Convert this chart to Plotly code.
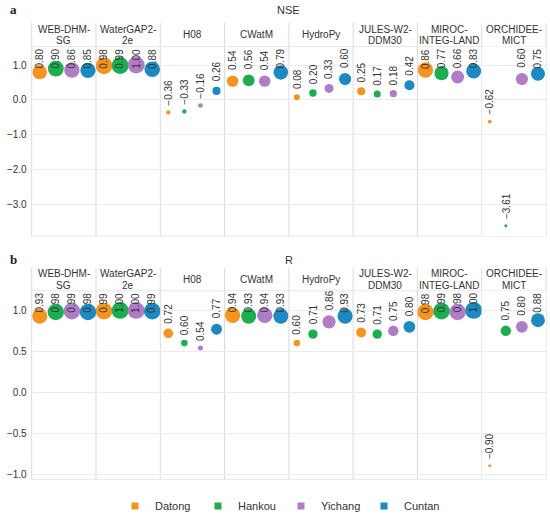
import plotly.graph_objects as go

# ---------------- data ----------------
stations = ["Datong", "Hankou", "Yichang", "Cuntan"]
models = ["WEB-DHM-SG", "WaterGAP2-2e", "H08", "CWatM", "HydroPy",
          "JULES-W2-DDM30", "MIROC-INTEG-LAND", "ORCHIDEE-MICT"]
model_header_lines = [["WEB-DHM-", "SG"], ["WaterGAP2-", "2e"], ["H08"], ["CWatM"],
                      ["HydroPy"], ["JULES-W2-", "DDM30"], ["MIROC-", "INTEG-LAND"],
                      ["ORCHIDEE-", "MICT"]]

nse_datong = [0.80, 0.98, -0.36, 0.54, 0.08, 0.25, 0.86, -0.62]
nse_hankou = [0.90, 0.99, -0.33, 0.56, 0.20, 0.17, 0.77, -3.61]
nse_yichang = [0.86, 1.00, -0.16, 0.54, 0.33, 0.18, 0.66, 0.60]
nse_cuntan = [0.85, 0.88, 0.26, 0.79, 0.60, 0.42, 0.83, 0.75]

r_datong = [0.93, 0.99, 0.72, 0.94, 0.60, 0.73, 0.98, -0.90]
r_hankou = [0.98, 1.00, 0.60, 0.93, 0.71, 0.71, 0.99, 0.75]
r_yichang = [0.99, 1.00, 0.54, 0.94, 0.86, 0.75, 0.98, 0.80]
r_cuntan = [0.98, 0.99, 0.77, 0.93, 0.93, 0.80, 1.00, 0.88]

nse_ticks = [1.0, 0.0, -1.0, -2.0, -3.0]
r_ticks = [1.0, 0.5, 0.0, -0.5, -1.0]

colors = ["#F7941D", "#1AAE50", "#B07CC6", "#1A8AC2"]

# ---------------- layout constants (pixels) ----------------
FIG_W, FIG_H = 550, 521
PLOT_L, PLOT_R = 31.7, 546.0
N_FACET = len(models)
FACET_W = (PLOT_R - PLOT_L) / N_FACET
FONT = "Liberation Sans, Arial, sans-serif"
TXT = "#333333"

panels = [
    dict(title="NSE", tag="a", values=[nse_datong, nse_hankou, nse_yichang, nse_cuntan],
         yrange=[-3.91, 1.53], ticks=nse_ticks, strip_top=23.0, plot_top=47.0,
         plot_bottom=238.0, size_base=0.0, size_slope=12.0, title_y=10.0),
    dict(title="R", tag="b", values=[r_datong, r_hankou, r_yichang, r_cuntan],
         yrange=[-1.064, 1.24], ticks=r_ticks, strip_top=270.0, plot_top=293.0,
         plot_bottom=483.0, size_base=0.54, size_slope=26.0, title_y=262.0),
]


def px_x(p):
    return p / FIG_W


def px_y(p):
    return 1 - p / FIG_H


def marker_size(v, base, slope):
    if v >= base:
        return 5.0 + slope * (v - base)
    return max(3.0, 5.0 + 2.0 * (v - base))


CHAR_W = {".": 2.78, "\u2212": 5.84}


def text_len(s, fs=10):
    return sum(CHAR_W.get(c, 5.56) for c in s) * fs / 10.0


def fmt(v):
    s = f"{v:.2f}"
    return s.replace("-", "\u2212")


fig = go.Figure()
layout = dict(
    width=FIG_W, height=FIG_H,
    margin=dict(l=0, r=0, t=0, b=0),
    paper_bgcolor="white", plot_bgcolor="white",
    font=dict(family=FONT, size=10, color=TXT),
    showlegend=True,
)
annotations = []
shapes = []

for p_i, pan in enumerate(panels):
    ymin, ymax = pan["yrange"]
    ppu = (pan["plot_bottom"] - pan["plot_top"]) / (ymax - ymin)
    ydom = [px_y(pan["plot_bottom"]), px_y(pan["plot_top"])]
    for j in range(N_FACET):
        k = p_i * N_FACET + j + 1
        xname = "xaxis" if k == 1 else f"xaxis{k}"
        yname = "yaxis" if k == 1 else f"yaxis{k}"
        xref = "x" if k == 1 else f"x{k}"
        yref = "y" if k == 1 else f"y{k}"
        x0 = PLOT_L + j * FACET_W
        x1 = x0 + FACET_W
        layout[xname] = dict(domain=[px_x(x0), px_x(x1)], anchor=yref, type="category",
                             categoryorder="array", categoryarray=stations,
                             range=[-0.5, 3.5], showgrid=False, zeroline=False,
                             showticklabels=False, showline=False, ticks="",
                             fixedrange=True)
        layout[yname] = dict(domain=ydom, anchor=xref, range=[ymin, ymax],
                             tickvals=pan["ticks"], tickformat=".1f",
                             showgrid=True, gridcolor="#ececec", gridwidth=1,
                             zeroline=False, showline=False, ticks="",
                             showticklabels=(j == 0), ticklabelstandoff=4,
                             tickfont=dict(size=10, color=TXT, family=FONT),
                             fixedrange=True)
        for s_i, st in enumerate(stations):
            v = pan["values"][s_i][j]
            d = marker_size(v, pan["size_base"], pan["size_slope"])
            fig.add_trace(go.Scatter(
                x=[st], y=[v], xaxis=xref, yaxis=yref, mode="markers",
                marker=dict(color=colors[s_i], size=d, line=dict(width=0), opacity=1),
                showlegend=False, hoverinfo="skip"))
            label = fmt(v)
            L = text_len(label)
            r = d / 2.0
            need = r + 4 + L + 1
            if v + need / ppu > ymax:
                annotations.append(dict(x=s_i, y=ymax, xref=xref, yref=yref, text=label,
                                        textangle=-90, showarrow=False, xanchor="center",
                                        yanchor="top", yshift=0,
                                        font=dict(size=10, color=TXT, family=FONT)))
            else:
                annotations.append(dict(x=s_i, y=v, xref=xref, yref=yref, text=label,
                                        textangle=-90, showarrow=False, xanchor="center",
                                        yanchor="bottom", yshift=r + 3,
                                        font=dict(size=10, color=TXT, family=FONT)))
        # facet header
        lines = model_header_lines[j]
        cy = (pan["strip_top"] + pan["plot_top"]) / 2.0
        n = len(lines)
        for li, line in enumerate(lines):
            ly = cy + (li - (n - 1) / 2.0) * 11.5
            annotations.append(dict(x=px_x((x0 + x1) / 2.0), y=px_y(ly), xref="paper",
                                    yref="paper", text=line, showarrow=False,
                                    xanchor="center", yanchor="middle",
                                    font=dict(size=10, color=TXT, family=FONT)))
    # facet borders
    for j in range(N_FACET + 1):
        bx = PLOT_L + j * FACET_W
        shapes.append(dict(type="line", xref="paper", yref="paper",
                           x0=px_x(bx), x1=px_x(bx), y0=px_y(pan["strip_top"]),
                           y1=px_y(pan["plot_bottom"]),
                           line=dict(color="#dadada", width=1), layer="below"))
    for hy in (pan["plot_top"], pan["plot_bottom"]):
        shapes.append(dict(type="line", xref="paper", yref="paper",
                           x0=px_x(PLOT_L), x1=px_x(PLOT_R), y0=px_y(hy), y1=px_y(hy),
                           line=dict(color="#e6e6e6", width=1), layer="below"))
    # panel tag and title
    annotations.append(dict(x=px_x(8), y=px_y(pan["title_y"]), xref="paper", yref="paper",
                            text=f"<b>{pan['tag']}</b>", showarrow=False, xanchor="left",
                            yanchor="middle",
                            font=dict(size=13, color="#222222",
                                      family="Liberation Serif, Times New Roman, serif")))
    annotations.append(dict(x=px_x((PLOT_L + PLOT_R) / 2.0), y=px_y(pan["title_y"]),
                            xref="paper", yref="paper", text=pan["title"], showarrow=False,
                            xanchor="center", yanchor="middle",
                            font=dict(size=11, color=TXT, family=FONT)))

# legend entries
for s_i, st in enumerate(stations):
    fig.add_trace(go.Scatter(x=[None], y=[None], mode="markers", name=st,
                             marker=dict(color=colors[s_i], size=7, symbol="square"),
                             showlegend=True, hoverinfo="skip"))

layout["annotations"] = annotations
layout["shapes"] = shapes
layout["legend"] = dict(orientation="h", x=px_x(115), xanchor="left", y=px_y(510),
                        yanchor="middle", entrywidth=38, entrywidthmode="pixels",
                        font=dict(size=11, color=TXT, family=FONT),
                        bgcolor="rgba(0,0,0,0)", itemwidth=30)
fig.update_layout(**layout)
fig.write_html("out.html",
               config={"displayModeBar": False},
               post_script="document.body.style.margin='0px';"
                           "document.body.style.overflow='hidden';")
